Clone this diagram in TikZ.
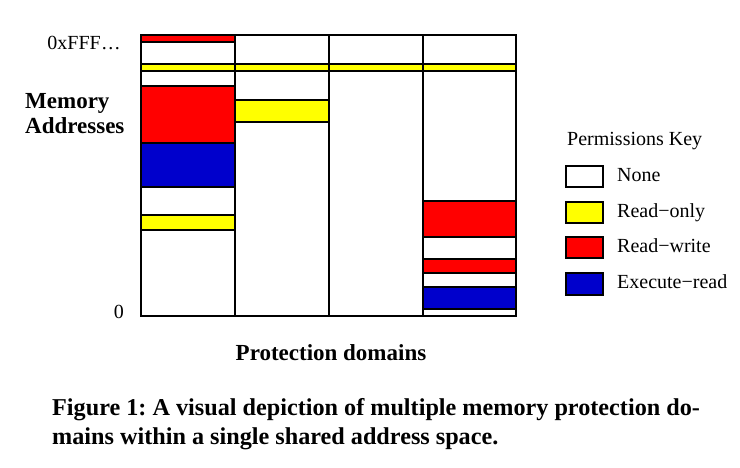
\documentclass[tikz,border=0pt]{standalone}
\usepackage{fontspec}
\setmainfont{Liberation Serif}
\frenchspacing
\definecolor{rw}{HTML}{FF0000}
\definecolor{ro}{HTML}{FFFF00}
\definecolor{xr}{HTML}{0000CC}
\begin{document}
\begin{tikzpicture}[x=1pt,y=-1pt,
  seg/.style={draw=black,line width=2.8pt},
  none/.style={seg,fill=white},
  rdo/.style={seg,fill=ro},
  rdw/.style={seg,fill=rw},
  exr/.style={seg,fill=xr},
  lbl/.style={font=\fontsize{20}{24}\selectfont,inner sep=0pt},
  blbl/.style={font=\fontsize{23}{23}\selectfont\bfseries,inner sep=0pt},
  captxt/.style={font=\fontsize{24.2}{29}\selectfont\bfseries,inner sep=0pt}]
\useasboundingbox (0,0) rectangle (740,467);
% column 1
\def\xa{141}\def\xb{235}
\draw[rdw]  (\xa,35) rectangle (\xb,42);
\draw[none] (\xa,42) rectangle (\xb,64);
\draw[rdo]  (\xa,64) rectangle (\xb,71);
\draw[none] (\xa,71) rectangle (\xb,86);
\draw[rdw]  (\xa,86) rectangle (\xb,143);
\draw[exr]  (\xa,143) rectangle (\xb,187);
\draw[none] (\xa,187) rectangle (\xb,215);
\draw[rdo]  (\xa,215) rectangle (\xb,230);
\draw[none] (\xa,230) rectangle (\xb,316);
% column 2
\def\xa{235}\def\xb{329}
\draw[none] (\xa,35) rectangle (\xb,64);
\draw[rdo]  (\xa,64) rectangle (\xb,71);
\draw[none] (\xa,71) rectangle (\xb,100);
\draw[rdo]  (\xa,100) rectangle (\xb,122);
\draw[none] (\xa,122) rectangle (\xb,316);
% column 3
\def\xa{329}\def\xb{423}
\draw[none] (\xa,35) rectangle (\xb,64);
\draw[rdo]  (\xa,64) rectangle (\xb,71);
\draw[none] (\xa,71) rectangle (\xb,316);
% column 4
\def\xa{423}\def\xb{516}
\draw[none] (\xa,35) rectangle (\xb,64);
\draw[rdo]  (\xa,64) rectangle (\xb,71);
\draw[none] (\xa,71) rectangle (\xb,201);
\draw[rdw]  (\xa,201) rectangle (\xb,237);
\draw[none] (\xa,237) rectangle (\xb,259);
\draw[rdw]  (\xa,259) rectangle (\xb,273);
\draw[none] (\xa,273) rectangle (\xb,287);
\draw[exr]  (\xa,287) rectangle (\xb,309);
\draw[none] (\xa,309) rectangle (\xb,316);
% axis labels
\node[lbl,anchor=base east] (top) at (120,49) {0xFFF\kern1pt.\kern1.5pt.\kern1.5pt.};
\node[lbl,anchor=base east] (zero) at (124,318) {0};
\node[blbl,anchor=base west] (mem) at (25,108) {Memory};
\node[blbl,anchor=base west] (addr) at (25,133) {Addresses};
\node[blbl,anchor=base] (pd) at (331,360) {Protection domains};
% legend
\node[lbl,anchor=base west] (key) at (567,145) {Permissions Key};
\draw[none] (566,166) rectangle (603,187);
\draw[rdo]  (566,202) rectangle (603,223);
\draw[rdw]  (566,237) rectangle (603,258);
\draw[exr]  (566,273) rectangle (603,295);
\node[lbl,anchor=base west] (kn) at (617,181) {None};
\node[lbl,anchor=base west] (ko) at (617,217) {Read−only};
\node[lbl,anchor=base west] (kw) at (617,252) {Read−write};
\node[lbl,anchor=base west] (kx) at (617,288) {Execute−read};
% caption
\node[captxt,anchor=base west] (c1) at (52,415) {Figure 1: A visual depiction of multiple memory protection do-};
\node[captxt,anchor=base west] (c2) at (52,444) {mains within a single shared address space.};
\end{tikzpicture}
\end{document}
